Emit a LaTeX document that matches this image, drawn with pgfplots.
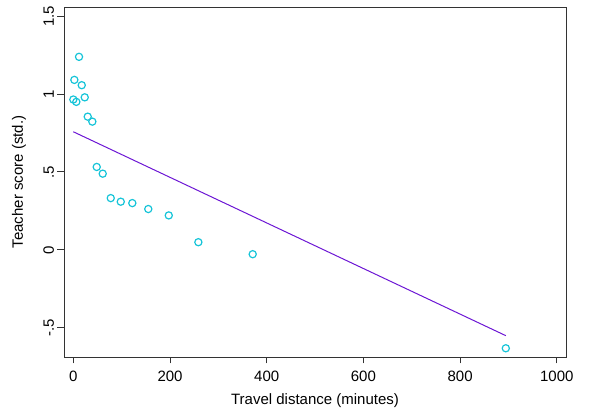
\documentclass[border=0pt]{standalone}
\usepackage{fontspec}
\setmainfont{Liberation Sans}
\usepackage{pgfplots}
\pgfplotsset{compat=1.18}
\definecolor{mcyan}{RGB}{22,196,216}
\definecolor{lpurple}{RGB}{108,22,212}
\begin{document}
\begin{tikzpicture}[x=1pt,y=1pt]
\useasboundingbox (-64,-57) rectangle (534,357);
\begin{axis}[
  at={(0,0)}, anchor=south west,
  scale only axis, width=502pt, height=350pt,
  xmin=-19.3, xmax=1019, ymin=-0.688, ymax=1.559,
  xtick={0,200,400,600,800,1000},
  xticklabels={0,200,400,600,800,1000},
  ytick={-0.5,0,0.5,1,1.5},
  yticklabels={-.5,0,.5,1,1.5},
  /pgf/number format/assume math mode=true,
  xticklabel style={font=\fontsize{15}{17}\selectfont, yshift=-4pt},
  yticklabel style={font=\fontsize{15}{17}\selectfont, rotate=90, anchor=south},
  tick align=outside, major tick length=6.5pt,
  xtick pos=bottom, ytick pos=left,
  axis line style={black!80, line width=0.9pt},
  tick style={black!80, line width=0.9pt},
  xlabel={Travel distance (minutes)},
  ylabel={Teacher score (std.)},
  every axis x label/.style={at={(axis description cs:0.5,-0.1257)}, anchor=center},
  every axis y label/.style={at={(axis description cs:-0.0896,0.5)}, anchor=center, rotate=90},
  label style={font=\fontsize{15}{17}\selectfont},
  scaled ticks=false,
  clip=false,
]
\addplot[only marks, mark=o, mark size=3.6pt, mcyan, line width=1.2pt] coordinates {
(0,0.965) (2.1,1.091) (6.2,0.950) (11.8,1.239) (17.4,1.057) (23.6,0.979)
(29.8,0.855) (39.3,0.823) (48.4,0.532) (60.8,0.489) (77.4,0.332) (98.1,0.309)
(122,0.300) (155,0.262) (197.4,0.221) (258.6,0.049) (371,-0.028) (894.5,-0.632)
};
\addplot[lpurple, line width=1pt] coordinates {(0,0.758) (894.5,-0.551)};
\end{axis}
\end{tikzpicture}
\end{document}
